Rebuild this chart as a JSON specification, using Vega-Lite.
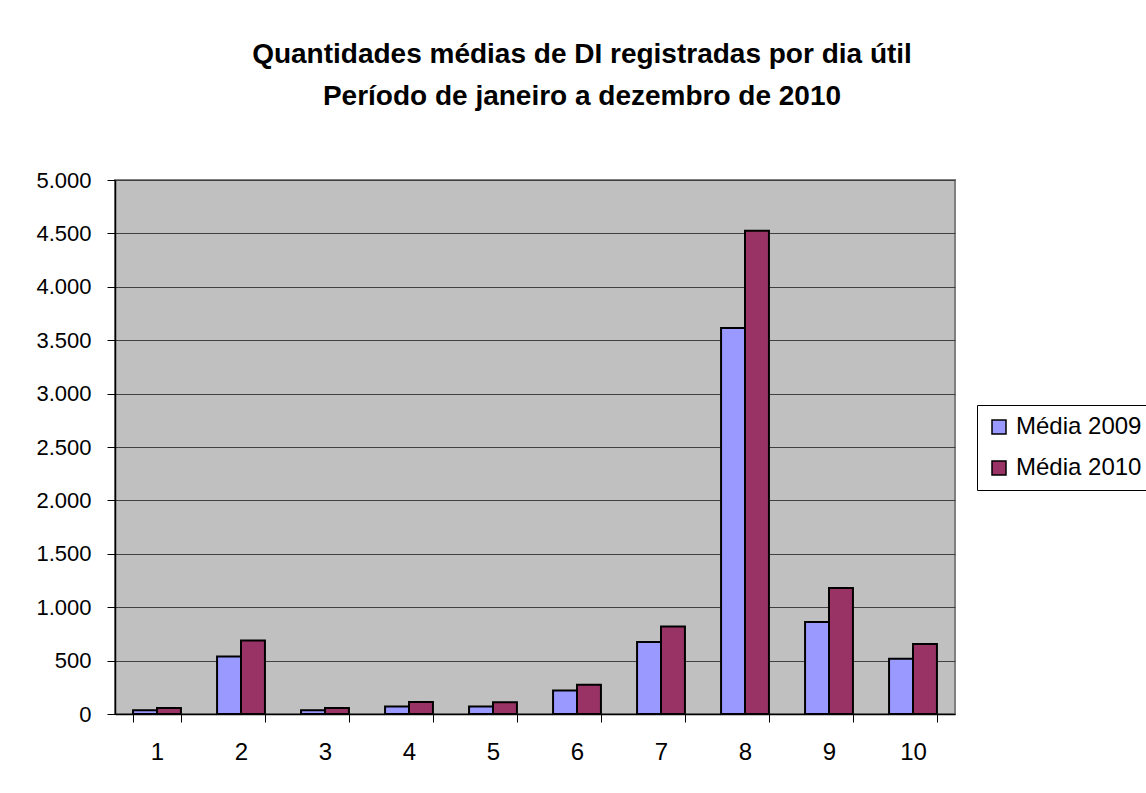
{
  "$schema": "https://vega.github.io/schema/vega-lite/v6.json",
  "autosize": "none",
  "width": 840,
  "height": 534,
  "padding": {"left": 115, "top": 180, "right": 191, "bottom": 79},
  "background": "white",
  "config": {
    "locale": {"number": {"decimal": ",", "thousands": ".", "grouping": [3], "currency": ["R$", ""]}},
    "font": "Liberation Sans",
    "view": {"fill": "#c0c0c0", "stroke": "#808080", "strokeWidth": 2}
  },
  "title": {
    "text": ["Quantidades médias de DI registradas por dia útil", "Período de janeiro a dezembro de 2010"],
    "font": "Liberation Sans",
    "fontSize": 28,
    "fontWeight": "bold",
    "color": "black",
    "anchor": "middle",
    "frame": "group",
    "dx": 47,
    "lineHeight": 42,
    "offset": 58
  },
  "data": {
    "values": [
      {"dia": "1", "serie": "Média 2009", "valor": 34},
      {"dia": "1", "serie": "Média 2010", "valor": 56},
      {"dia": "2", "serie": "Média 2009", "valor": 539},
      {"dia": "2", "serie": "Média 2010", "valor": 689},
      {"dia": "3", "serie": "Média 2009", "valor": 34},
      {"dia": "3", "serie": "Média 2010", "valor": 56},
      {"dia": "4", "serie": "Média 2009", "valor": 71},
      {"dia": "4", "serie": "Média 2010", "valor": 112},
      {"dia": "5", "serie": "Média 2009", "valor": 71},
      {"dia": "5", "serie": "Média 2010", "valor": 109},
      {"dia": "6", "serie": "Média 2009", "valor": 221},
      {"dia": "6", "serie": "Média 2010", "valor": 274},
      {"dia": "7", "serie": "Média 2009", "valor": 674},
      {"dia": "7", "serie": "Média 2010", "valor": 820},
      {"dia": "8", "serie": "Média 2009", "valor": 3614},
      {"dia": "8", "serie": "Média 2010", "valor": 4525},
      {"dia": "9", "serie": "Média 2009", "valor": 861},
      {"dia": "9", "serie": "Média 2010", "valor": 1180},
      {"dia": "10", "serie": "Média 2009", "valor": 518},
      {"dia": "10", "serie": "Média 2010", "valor": 655}
    ]
  },
  "mark": {"type": "bar", "stroke": "black", "strokeWidth": 2},
  "encoding": {
    "x": {
      "field": "dia",
      "type": "ordinal",
      "sort": ["1", "2", "3", "4", "5", "6", "7", "8", "9", "10"],
      "scale": {"paddingInner": 0.43, "paddingOuter": 0.215},
      "axis": {
        "title": null,
        "labelAngle": 0,
        "labelFont": "Liberation Sans",
        "labelFontSize": 24,
        "labelColor": "black",
        "labelPadding": 18,
        "tickBand": "extent",
        "tickSize": 8,
        "tickColor": "black",
        "domainColor": "black",
        "domainWidth": 1.5,
        "tickWidth": 1
      }
    },
    "xOffset": {
      "field": "serie",
      "type": "nominal",
      "scale": {"paddingInner": 0, "paddingOuter": 0}
    },
    "y": {
      "field": "valor",
      "type": "quantitative",
      "scale": {"domain": [0, 5000], "nice": false},
      "axis": {
        "title": null,
        "values": [0, 500, 1000, 1500, 2000, 2500, 3000, 3500, 4000, 4500, 5000],
        "format": ",d",
        "labelFont": "Liberation Sans",
        "labelFontSize": 22,
        "labelColor": "black",
        "labelPadding": 16,
        "tickSize": 8,
        "tickColor": "black",
        "domainColor": "black",
        "domainWidth": 1.5,
        "grid": true,
        "gridColor": "#404040",
        "gridWidth": 1
      }
    },
    "color": {
      "field": "serie",
      "type": "nominal",
      "scale": {"domain": ["Média 2009", "Média 2010"], "range": ["#9999ff", "#993366"]},
      "legend": {
        "title": null,
        "orient": "none",
        "legendX": 862,
        "legendY": 225,
        "symbolType": "square",
        "symbolSize": 196,
        "symbolStrokeColor": "black",
        "symbolStrokeWidth": 1.5,
        "symbolOpacity": 1,
        "labelFont": "Liberation Sans",
        "labelFontSize": 24,
        "labelColor": "black",
        "labelOffset": 5,
        "rowPadding": 17,
        "padding": 10,
        "strokeColor": "black",
        "fillColor": "white"
      }
    }
  }
}
